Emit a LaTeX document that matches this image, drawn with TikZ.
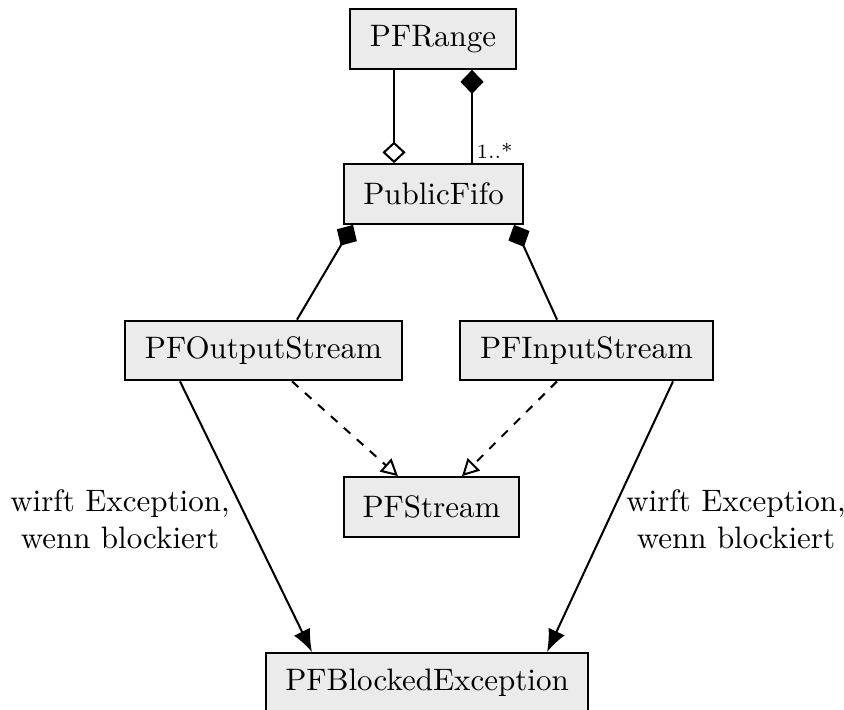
\documentclass[tikz,border=0pt]{standalone}
\usetikzlibrary{arrows.meta,calc}

\tikzset{
  every node/.style={font=\fontsize{10.7pt}{12.8pt}\selectfont},
  cls/.style={draw, fill=black!8, line width=0.7pt, minimum height=20.6pt,
              inner xsep=6pt, text=black},
  link/.style={line width=0.7pt},
  comp/.style={link, {Diamond[length=8.3pt,width=8pt]}-},
  aggr/.style={link, -{Diamond[open,length=7.4pt,width=8pt,fill=white]}},
  real/.style={link, dashed, -{Triangle[open,length=5.8pt,width=6pt,fill=white]}},
  uses/.style={link, -{Latex[length=7.8pt,width=6.2pt]}},
  note/.style={align=center, inner sep=0pt}
}

\begin{document}
\begin{tikzpicture}[x=0.345pt, y=-0.345pt]
  \useasboundingbox (0,0) rectangle (844,709);

  % classes
  \node[cls, minimum width=57.3pt]  (range)  at (433,39)    {PFRange};
  \node[cls, minimum width=61.8pt]  (fifo)   at (433.5,194) {PublicFifo};
  \node[cls, minimum width=95.6pt]  (out)    at (263.5,350.5) {PFOutputStream};
  \node[cls, minimum width=87.3pt]  (in)     at (586.5,350.5) {PFInputStream};
  \node[cls, minimum width=60.4pt]  (stream) at (431.5,507) {PFStream};
  \node[cls, minimum width=111.1pt] (exc)    at (427,683)   {PFBlockedException};

  % PFRange <-> PublicFifo
  \draw[aggr] ($(range.south)+(-39,0)$) -- ($(fifo.north)+(-39.5,0)$);
  \draw[comp] ($(range.south)+(39,0)$) -- ($(fifo.north)+(38.5,0)$)
    node[anchor=south west, font=\scriptsize, inner sep=1.2pt] {1..*};

  % PublicFifo composed of the two streams
  \draw[comp] ($(fifo.south)+(-80.5,0)$) -- ($(out.north)+(33.5,0)$);
  \draw[comp] ($(fifo.south)+(80.5,0)$)  -- ($(in.north)+(-29.5,0)$);

  % both streams realise PFStream
  \draw[real] ($(out.south)+(28.5,0)$) -- ($(stream.north)+(-33.5,0)$);
  \draw[real] ($(in.south)+(-29.5,0)$) -- ($(stream.north)+(30.5,0)$);

  % exceptions
  \draw[uses] ($(out.south)+(-83.5,0)$) -- ($(exc.north)+(-115,0)$);
  \draw[uses] ($(in.south)+(86.5,0)$)   -- ($(exc.north)+(120,0)$);

  \node[note] (lblL) at (120,519) {wirft Exception,\\wenn blockiert};
  \node[note] (lblR) at (736,519) {wirft Exception,\\wenn blockiert};
\end{tikzpicture}
\end{document}
